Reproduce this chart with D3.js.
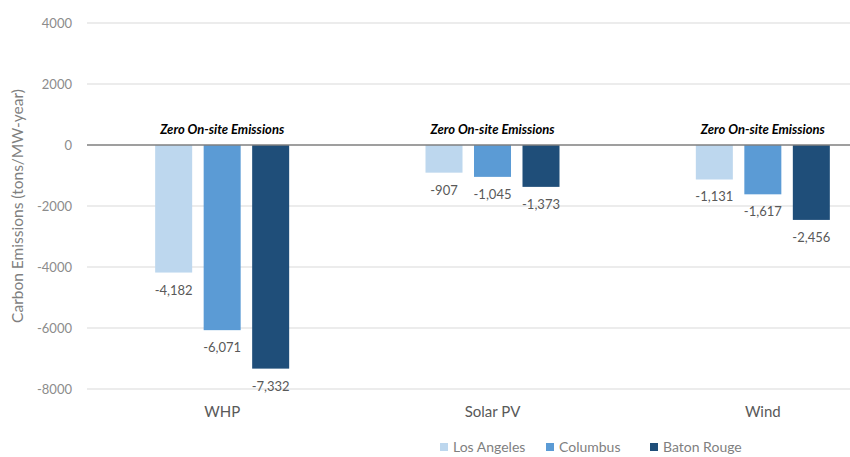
<!DOCTYPE html>
<html>
<head>
<meta charset="utf-8">
<script src="https://cdn.jsdelivr.net/npm/d3@7"></script>
<style>
  body { margin: 0; background: #fff; }
  text { font-family: Lato, "Open Sans", sans-serif; }
</style>
</head>
<body>
<div id="chart"></div>
<script>
// data
const categories = ['WHP', 'Solar PV', 'Wind'];
const cities = ['Los Angeles', 'Columbus', 'Baton Rouge'];
const losAngeles = [-4182, -907, -1131];
const columbus = [-6071, -1045, -1617];
const batonRouge = [-7332, -1373, -2456];
const yTicks = [4000, 2000, 0, -2000, -4000, -6000, -8000];
const note = 'Zero On-site Emissions';

const colors = ['#bdd7ee', '#5b9bd5', '#1f4e79'];
const seriesValues = [losAngeles, columbus, batonRouge];

const W = 850, H = 457;
const svg = d3.select('#chart').append('svg')
  .attr('width', W).attr('height', H);

const x = d3.scaleBand().domain(categories).range([87, 898]).padding(0);
const xs = d3.scaleBand().domain(cities).range([0, 134]).paddingInner(0.237).paddingOuter(0);
const y = d3.scaleLinear().domain([-8000, 4000]).range([389, 23]);

// gridlines
svg.append('g').selectAll('line')
  .data(yTicks.filter(d => d !== 0))
  .enter().append('line')
  .attr('x1', 87).attr('x2', 898)
  .attr('y1', d => y(d)).attr('y2', d => y(d))
  .attr('stroke', '#d9d9d9').attr('stroke-width', 1);

// y tick labels
svg.append('g').selectAll('text')
  .data(yTicks)
  .enter().append('text')
  .attr('x', 72).attr('y', d => y(d) + 4.5)
  .attr('text-anchor', 'end')
  .attr('font-size', 13).attr('fill', '#8c8c8c')
  .text(d => d);

// y title
svg.append('text')
  .attr('transform', `translate(23,${(y(4000) + y(-8000)) / 2}) rotate(-90)`)
  .attr('text-anchor', 'middle')
  .attr('font-size', 15.5).attr('fill', '#7f7f7f')
  .text('Carbon Emissions (tons/MW-year)');

// bars
const rows = [];
categories.forEach((c, i) => {
  cities.forEach((city, j) => rows.push({ cat: c, city: city, v: seriesValues[j][i], color: colors[j] }));
});

const offset = (x.bandwidth() - xs.range()[1]) / 2;

svg.append('g').selectAll('rect')
  .data(rows)
  .enter().append('rect')
  .attr('x', d => x(d.cat) + offset + xs(d.city))
  .attr('y', y(0))
  .attr('width', xs.bandwidth())
  .attr('height', d => y(d.v) - y(0))
  .attr('fill', d => d.color);

// value labels
svg.append('g').selectAll('text')
  .data(rows)
  .enter().append('text')
  .attr('x', d => x(d.cat) + offset + xs(d.city) + xs.bandwidth() / 2)
  .attr('y', d => y(d.v) + 22)
  .attr('text-anchor', 'middle')
  .attr('font-size', 13).attr('fill', '#595959')
  .text(d => d3.format(',')(d.v).replace('−', '-'));

// zero line
svg.append('line')
  .attr('x1', 87).attr('x2', 898)
  .attr('y1', y(0)).attr('y2', y(0))
  .attr('stroke', '#7f7f7f').attr('stroke-width', 1.5);

// "Zero On-site Emissions" notes
svg.append('g').selectAll('text')
  .data(categories)
  .enter().append('text')
  .attr('x', d => x(d) + x.bandwidth() / 2)
  .attr('y', y(0) - 11)
  .attr('text-anchor', 'middle')
  .attr('font-size', 13).attr('font-weight', 'bold').attr('font-style', 'italic')
  .attr('fill', '#000')
  .text(note);

// category labels
svg.append('g').selectAll('text')
  .data(categories)
  .enter().append('text')
  .attr('x', d => x(d) + x.bandwidth() / 2)
  .attr('y', 417)
  .attr('text-anchor', 'middle')
  .attr('font-size', 15).attr('fill', '#595959')
  .text(d => d);

// legend
const legendX = [440, 546, 650];
const legend = svg.append('g').selectAll('g')
  .data(cities)
  .enter().append('g')
  .attr('transform', (d, i) => `translate(${legendX[i]},452)`);
legend.append('rect')
  .attr('x', 0).attr('y', -9).attr('width', 8).attr('height', 8)
  .attr('fill', (d, i) => colors[i]);
legend.append('text')
  .attr('x', 13).attr('y', 0)
  .attr('font-size', 14).attr('fill', '#7f7f7f')
  .text(d => d);
</script>
</body>
</html>
